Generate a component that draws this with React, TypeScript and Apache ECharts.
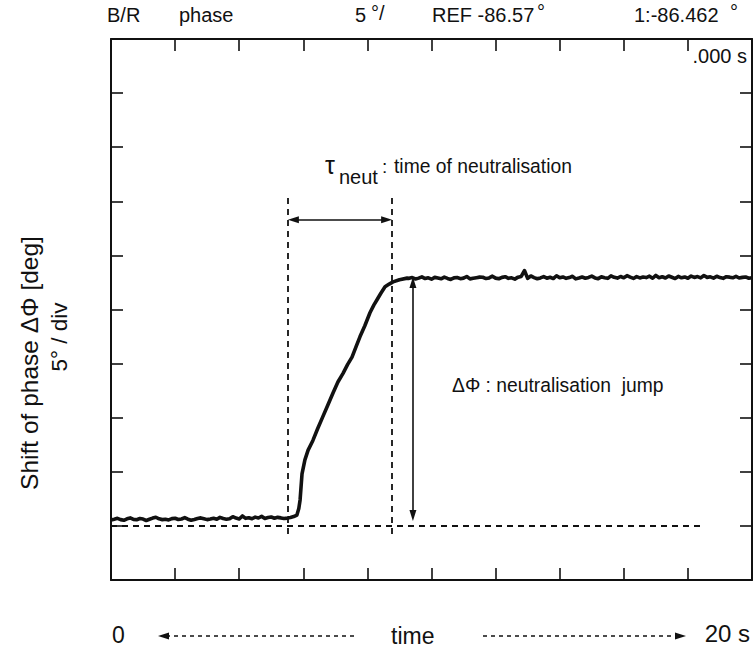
import React, { useEffect, useRef } from "react";
import * as echarts from "echarts";

// ---- data (time in s, phase in degrees; 5 deg / div, 2 s / div) ----
const timeStep = 0.1;
const baselineStart = 0;
const baselineValues = [
  5.55, 5.62, 5.7, 5.58, 5.52, 5.66, 5.74, 5.6, 5.57, 5.68,
  5.63, 5.5, 5.61, 5.72, 5.8, 5.65, 5.58, 5.62, 5.55, 5.67,
  5.71, 5.59, 5.64, 5.76, 5.62, 5.53, 5.6, 5.69, 5.74, 5.66,
  5.58, 5.63, 5.7, 5.61, 5.79, 5.68, 5.62, 5.66, 5.85, 5.72,
  5.64, 5.92, 5.7, 5.76, 5.66, 5.81, 5.73, 5.88, 5.69, 5.77,
  5.82, 5.71, 5.79, 5.74, 5.68, 5.72, 5.78, 5.86,
];
const riseTimes = [
  5.8, 5.86, 5.9, 5.96, 6.05, 6.15, 6.3, 6.45, 6.61, 6.77, 6.93, 7.08, 7.24,
  7.38, 7.52, 7.65, 7.77, 7.92, 8.08, 8.2, 8.3, 8.42, 8.55, 8.68, 8.8, 9.0, 9.24,
];
const riseValues = [
  6.0, 6.6, 7.4, 9.8, 11.1, 12.0, 12.9, 14.0, 15.1, 16.2, 17.3, 18.3, 19.1,
  19.9, 20.6, 21.6, 22.5, 23.5, 24.7, 25.4, 25.9, 26.5, 27.1, 27.35, 27.55, 27.75, 27.9,
];
const plateauStart = 9.3;
const plateauValues = [
  27.88, 27.95, 27.82, 27.9, 28.02, 27.86, 27.93, 27.8, 27.97, 27.91,
  27.84, 27.99, 27.87, 27.78, 27.92, 27.96, 27.85, 27.9, 28.05, 27.83,
  27.89, 27.94, 27.99, 27.98, 27.86, 27.92, 28.08, 27.9, 27.84, 27.97,
  28.03, 27.88, 27.93, 27.81, 27.99, 28.06, 28.6, 27.87, 28.1, 27.95,
  27.84, 27.92, 28.04, 27.89, 27.98, 27.86, 28.12, 27.93, 28.01, 27.88,
  27.95, 28.07, 27.83, 27.91, 28.0, 27.89, 27.96, 28.09, 27.92, 27.85,
  28.02, 27.94, 27.88, 28.11, 27.97, 27.9, 28.05, 27.93, 28.13, 27.99,
  27.87, 28.04, 27.92, 28.0, 27.95, 28.08, 27.89, 28.15, 27.94, 28.03,
  27.91, 28.1, 27.98, 27.86, 28.06, 27.93, 28.01, 27.89, 28.09, 27.96,
  28.04, 27.92, 28.14, 27.97, 28.02, 27.9, 28.07, 27.95, 27.88, 28.03,
  27.99, 27.93, 28.06, 27.91, 27.97, 28.01, 27.89, 27.94,
];

// annotation positions (data units)
const referenceLevel = 5.0;
const referenceEnd = 18.5;
const tauStart = 5.52;
const tauEnd = 8.77;
const tauMarkerTop = 35.3;
const tauMarkerBottom = 4.2;
const tauArrowLevel = 33.3;
const jumpTime = 9.42;
const jumpLow = 5.45;
const jumpHigh = 28.0;

const axisMin = { x: 0, y: 0 };
const axisMax = { x: 20, y: 50 };
const axisStep = { x: 2, y: 5 };

const FONT = "'Liberation Sans', Arial, Helvetica, sans-serif";
const INK = "#111111";

function buildTrace(): number[][] {
  const pts: number[][] = [];
  baselineValues.forEach((v, i) => pts.push([+(baselineStart + i * timeStep).toFixed(2), v]));
  riseTimes.forEach((t, i) => pts.push([t, riseValues[i]]));
  plateauValues.forEach((v, i) => pts.push([+(plateauStart + i * timeStep).toFixed(2), v]));
  return pts;
}

function txt(text: string, x: number, y: number, size: number, extra: any = {}) {
  return {
    type: "text",
    x,
    y,
    silent: true,
    ...extra,
    style: {
      text,
      fill: INK,
      font: `${size}px ${FONT}`,
      textAlign: extra.align || "left",
      textVerticalAlign: "middle",
    },
  };
}

export default function App() {
  const ref = useRef<HTMLDivElement>(null);
  useEffect(() => {
    if (!ref.current) return;
    const chart = echarts.init(ref.current, undefined, { renderer: "svg" });
    const axisCommon = {
      type: "value",
      axisLine: { show: true, onZero: false, lineStyle: { color: INK, width: 2 } },
      axisTick: { show: true, inside: true, length: 12, lineStyle: { color: INK, width: 1.6 } },
      axisLabel: { show: false },
      splitLine: { show: false },
    };
    const xAx = { ...axisCommon, min: axisMin.x, max: axisMax.x, interval: axisStep.x };
    const yAx = { ...axisCommon, min: axisMin.y, max: axisMax.y, interval: axisStep.y };
    const xInset = 0.17;
    const yInset = 0.5;
    chart.setOption({
      animation: false,
      backgroundColor: "#ffffff",
      grid: { left: 111, right: 4, top: 39, bottom: 76 },
      xAxis: [
        { ...xAx, position: "bottom" },
        { ...xAx, position: "top" },
      ],
      yAxis: [
        { ...yAx, position: "left" },
        { ...yAx, position: "right" },
      ],
      series: [
        {
          type: "line",
          data: buildTrace(),
          symbol: "none",
          showSymbol: false,
          lineStyle: { color: INK, width: 3.6, join: "round" },
          z: 5,
        },
        {
          type: "line",
          data: [],
          markLine: {
            silent: true,
            animation: false,
            symbol: ["none", "none"],
            label: { show: false },
            lineStyle: { color: INK, width: 1.8, type: [6, 5] },
            data: [
              [{ coord: [axisMin.x, referenceLevel] }, { coord: [referenceEnd, referenceLevel] }],
              [{ coord: [tauStart, tauMarkerTop] }, { coord: [tauStart, tauMarkerBottom] }],
              [{ coord: [tauEnd, tauMarkerTop] }, { coord: [tauEnd, tauMarkerBottom] }],
            ],
          },
        },
        {
          type: "line",
          data: [],
          markLine: {
            silent: true,
            animation: false,
            symbol: ["triangle", "triangle"],
            symbolSize: [7, 11],
            label: { show: false },
            lineStyle: { color: INK, width: 1.6, type: "solid" },
            data: [
              [
                { coord: [tauStart + xInset, tauArrowLevel] },
                { coord: [tauEnd - xInset, tauArrowLevel] },
              ],
              [
                { coord: [jumpTime, jumpHigh - yInset] },
                { coord: [jumpTime, jumpLow + yInset] },
              ],
            ],
          },
        },
      ],
      graphic: [
        // header
        txt("B/R", 107, 15, 20),
        txt("phase", 179, 15, 20),
        txt("5", 355, 15, 20),
        txt("°/", 371, 13, 20),
        txt("REF -86.57", 432, 15, 20),
        txt("°", 537, 12, 20),
        txt("1:-86.462", 634, 15, 20),
        txt("°", 730, 12, 20),
        txt(".000 s", 747, 56, 20, { align: "right" }),
        // tau annotation
        txt("τ", 325, 165, 25),
        txt("neut", 339, 177, 20),
        txt(":", 382, 166, 19),
        txt("time of neutralisation", 394, 166, 19.3),
        // jump annotation
        txt("ΔΦ : neutralisation  jump", 452, 385, 19.3),
        // y axis title
        txt("Shift of phase ΔΦ [deg]", 29, 363, 24.5, { rotation: Math.PI / 2, align: "center" }),
        txt("5° / div", 59, 337, 22.5, { rotation: Math.PI / 2, align: "center" }),
        // bottom time scale
        txt("0", 112, 635, 23),
        txt("time", 391, 636, 23),
        txt("20 s", 750, 633, 24, { align: "right" }),
        {
          type: "line",
          silent: true,
          shape: { x1: 166, y1: 636, x2: 357, y2: 636 },
          style: { stroke: INK, lineWidth: 1.5, lineDash: [4, 4] },
        },
        {
          type: "polygon",
          silent: true,
          shape: { points: [[158, 636], [169, 632.5], [169, 639.5]] },
          style: { fill: INK },
        },
        {
          type: "line",
          silent: true,
          shape: { x1: 483, y1: 636, x2: 676, y2: 636 },
          style: { stroke: INK, lineWidth: 1.5, lineDash: [4, 4] },
        },
        {
          type: "polygon",
          silent: true,
          shape: { points: [[686, 636], [675, 632.5], [675, 639.5]] },
          style: { fill: INK },
        },
      ],
    });
    return () => chart.dispose();
  }, []);
  return (
    <div
      ref={ref}
      style={{ position: "fixed", left: 0, top: 0, width: 756, height: 656, background: "#fff" }}
    />
  );
}
